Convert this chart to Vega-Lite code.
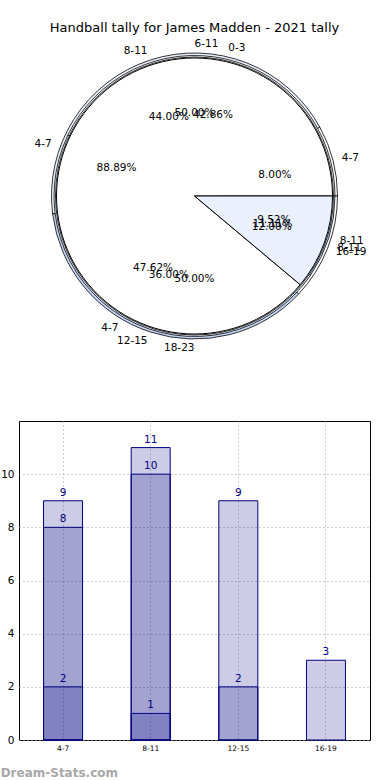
{
  "$schema": "https://vega.github.io/schema/vega-lite/v6.json",
  "padding": {"left": 0, "top": 22, "right": 0, "bottom": 0},
  "background": "white",
  "config": {"font": "DejaVu Sans", "view": {"stroke": null}},
  "title": {"text": "Handball tally for James Madden - 2021 tally", "fontSize": 13, "fontWeight": "normal", "anchor": "middle", "frame": "group", "color": "black", "offset": 4},
  "bounds": "flush",
  "spacing": 68,
  "vconcat": [
    {
      "width": 351,
      "height": 314,
      "data": {"values": [
        {"pie": "A", "range": "4-7", "share": 0.8889, "ord": 1},
        {"pie": "A", "range": "8-11", "share": 0.1111, "ord": 2},
        {"pie": "B", "range": "4-7", "share": 0.08, "ord": 1},
        {"pie": "B", "range": "8-11", "share": 0.44, "ord": 2},
        {"pie": "B", "range": "12-15", "share": 0.36, "ord": 3},
        {"pie": "B", "range": "16-19", "share": 0.12, "ord": 4},
        {"pie": "C", "range": "0-3", "share": 0.4286, "ord": 1},
        {"pie": "C", "range": "4-7", "share": 0.4762, "ord": 2},
        {"pie": "C", "range": "8-11", "share": 0.0952, "ord": 3},
        {"pie": "D", "range": "6-11", "share": 0.5, "ord": 1},
        {"pie": "D", "range": "18-23", "share": 0.5, "ord": 2}
      ]},
      "encoding": {
        "theta": {"field": "share", "type": "quantitative", "stack": true, "scale": {"domain": [0, 1], "range": [1.5708, -4.7124]}},
        "order": {"field": "ord", "type": "quantitative"}
      },
      "layer": [
        {"transform": [{"filter": "datum.pie == 'B'"}], "mark": {"type": "arc", "radius": 143, "stroke": "black", "strokeWidth": 0.8},
         "encoding": {"color": {"field": "ord", "type": "nominal", "scale": {"domain": [1, 2, 3, 4], "range": ["#ffffff", "#ebf1fc", "#c5d6f7", "#ffffff"]}, "legend": null}}},
        {"transform": [{"filter": "datum.pie == 'C'"}], "mark": {"type": "arc", "radius": 140.5, "stroke": "black", "strokeWidth": 0.8},
         "encoding": {"color": {"field": "ord", "type": "nominal", "scale": {"domain": [1, 2, 3, 4], "range": ["#ffffff", "#ebf1fc", "#c5d6f7", "#ffffff"]}, "legend": null}}},
        {"transform": [{"filter": "datum.pie == 'D'"}], "mark": {"type": "arc", "radius": 139, "stroke": "black", "strokeWidth": 0.8},
         "encoding": {"color": {"field": "ord", "type": "nominal", "scale": {"domain": [1, 2, 3, 4], "range": ["#ffffff", "#ebf1fc", "#c5d6f7", "#ffffff"]}, "legend": null}}},
        {"transform": [{"filter": "datum.pie == 'A'"}], "mark": {"type": "arc", "radius": 138, "stroke": "black", "strokeWidth": 1},
         "encoding": {"color": {"field": "ord", "type": "nominal", "scale": {"domain": [1, 2, 3, 4], "range": ["#ffffff", "#ebf1fc", "#c5d6f7", "#ffffff"]}, "legend": null}}},
        {"transform": [{"filter": "datum.pie == 'A'"}], "layer": [
          {"mark": {"type": "text", "radius": 83, "fontSize": 10.5, "baseline": "middle", "color": "black"}, "encoding": {"text": {"field": "share", "type": "quantitative", "format": ".2%"}}},
          {"mark": {"type": "text", "radius": 152, "fontSize": 10.5, "baseline": "middle", "color": "black", "align": {"expr": "(datum.share_start + datum.share_end) <= 0.5 || (datum.share_start + datum.share_end) > 1.5 ? 'left' : 'right'"}}, "encoding": {"text": {"field": "range", "type": "nominal"}}}
        ]},
        {"transform": [{"filter": "datum.pie == 'B'"}], "layer": [
          {"mark": {"type": "text", "radius": 83, "fontSize": 10.5, "baseline": "middle", "color": "black"}, "encoding": {"text": {"field": "share", "type": "quantitative", "format": ".2%"}}},
          {"mark": {"type": "text", "radius": 152, "fontSize": 10.5, "baseline": "middle", "color": "black", "align": {"expr": "(datum.share_start + datum.share_end) <= 0.5 || (datum.share_start + datum.share_end) > 1.5 ? 'left' : 'right'"}}, "encoding": {"text": {"field": "range", "type": "nominal"}}}
        ]},
        {"transform": [{"filter": "datum.pie == 'C'"}], "layer": [
          {"mark": {"type": "text", "radius": 83, "fontSize": 10.5, "baseline": "middle", "color": "black"}, "encoding": {"text": {"field": "share", "type": "quantitative", "format": ".2%"}}},
          {"mark": {"type": "text", "radius": 152, "fontSize": 10.5, "baseline": "middle", "color": "black", "align": {"expr": "(datum.share_start + datum.share_end) <= 0.5 || (datum.share_start + datum.share_end) > 1.5 ? 'left' : 'right'"}}, "encoding": {"text": {"field": "range", "type": "nominal"}}}
        ]},
        {"transform": [{"filter": "datum.pie == 'D'"}], "layer": [
          {"mark": {"type": "text", "radius": 83, "fontSize": 10.5, "baseline": "middle", "color": "black"}, "encoding": {"text": {"field": "share", "type": "quantitative", "format": ".2%"}}},
          {"mark": {"type": "text", "radius": 152, "fontSize": 10.5, "baseline": "middle", "color": "black", "align": {"expr": "(datum.share_start + datum.share_end) <= 0.5 || (datum.share_start + datum.share_end) > 1.5 ? 'left' : 'right'"}}, "encoding": {"text": {"field": "range", "type": "nominal"}}}
        ]}
      ]
    },
    {
      "width": 351,
      "height": 319,
      "view": {"stroke": "black", "strokeWidth": 1},
      "title": {"text": "Dream-Stats.com", "orient": "bottom", "anchor": "start", "color": "#a8a8a8", "fontSize": 12, "fontWeight": "bold", "offset": 16},
      "data": {"values": [
        {"range": "4-7", "series": 1, "tally": 9},
        {"range": "8-11", "series": 1, "tally": 11},
        {"range": "12-15", "series": 1, "tally": 9},
        {"range": "16-19", "series": 1, "tally": 3},
        {"range": "4-7", "series": 2, "tally": 8},
        {"range": "8-11", "series": 2, "tally": 10},
        {"range": "12-15", "series": 2, "tally": 2},
        {"range": "4-7", "series": 3, "tally": 2},
        {"range": "8-11", "series": 3, "tally": 1}
      ]},
      "encoding": {
        "x": {"field": "range", "type": "nominal", "sort": ["4-7", "8-11", "12-15", "16-19"], "scale": {"paddingInner": 0.555, "paddingOuter": 0.28},
              "axis": {"title": null, "labelAngle": 0, "labelFontSize": 7.5, "labelColor": "black", "grid": true, "gridDash": [1, 3], "gridColor": "#a0a0a0", "domain": false, "tickSize": 0, "labelPadding": 4}},
        "y": {"field": "tally", "type": "quantitative", "stack": null, "scale": {"domain": [0, 12], "nice": false},
              "axis": {"title": null, "values": [0, 2, 4, 6, 8, 10], "labelFontSize": 10.5, "labelColor": "black", "grid": true, "gridDash": [1, 3], "gridColor": "#a0a0a0", "domain": false, "tickSize": 0, "labelPadding": 5}}
      },
      "layer": [
        {"mark": {"type": "bar", "fill": "#000080", "fillOpacity": 0.2, "stroke": "#000080", "strokeWidth": 1}},
        {"mark": {"type": "text", "color": "#000080", "fontSize": 10.5, "baseline": "bottom", "dy": -3}, "encoding": {"text": {"field": "tally", "type": "quantitative"}}}
      ]
    }
  ]
}
